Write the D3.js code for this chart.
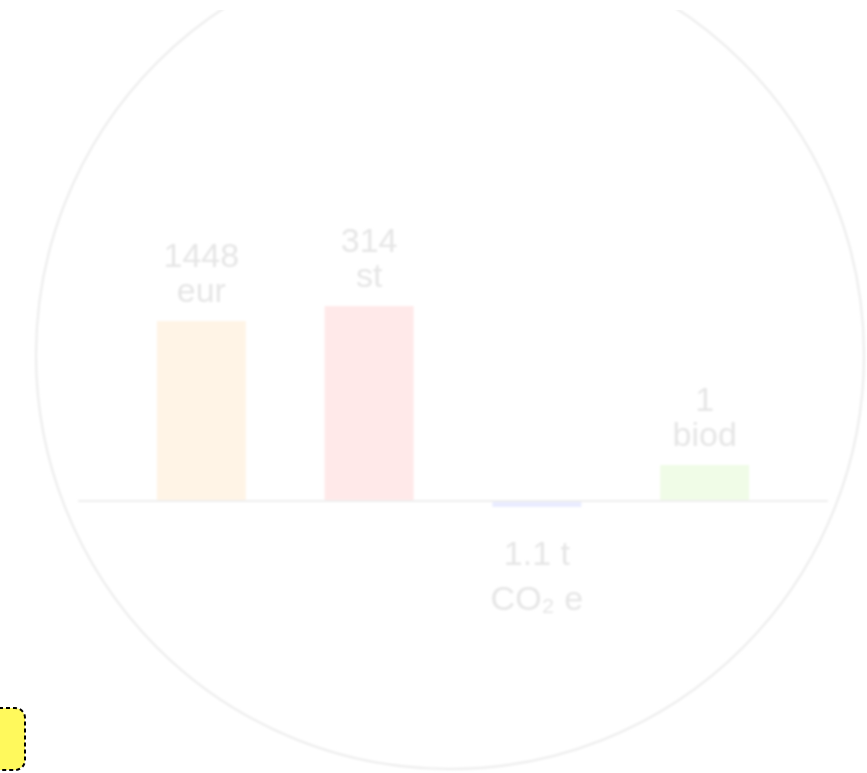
<!DOCTYPE html>
<html>
<head>
<meta charset="utf-8">
<script src="https://cdn.jsdelivr.net/npm/d3@7"></script>
<style>
  html, body { margin: 0; padding: 0; background: #fff; overflow: hidden; }
  svg { display: block; }
</style>
</head>
<body>
<div id="showdata"></div>
<script>
// indicators shown as bars
var categories = ["cost", "items", "co2", "biod"];
var values     = [1448, 314, -1.1, 1];
var topLines   = ["1448", "314", "1.1 t", "1"];
var unitLines  = ["eur", "st", "CO\u2082 e", "biod"];
// bar height relative to each indicator's own max
var relHeight  = [0.90, 0.975, -0.03, 0.18];
var barColors  = ["#fff4e6", "#ffe9e9", "#e9ecff", "#f0fce7"];

var svg_width = 867;
var svg_height = 773;

var mysvg = d3.select("#showdata")
  .append("svg")
  .attr("width", svg_width)
  .attr("height", svg_height);

var defs = mysvg.append("defs");
defs.append("clipPath").attr("id", "clipTop")
  .append("rect")
  .attr("x", 0).attr("y", 10)
  .attr("width", svg_width).attr("height", svg_height - 10);
defs.append("filter").attr("id", "soft")
  .attr("x", "-5%").attr("y", "-5%").attr("width", "110%").attr("height", "110%")
  .append("feGaussianBlur").attr("stdDeviation", 1.1);

var data = categories.map(function(c, i) {
  return { cat: c, value: values[i], rel: relHeight[i], top: topLines[i], unit: unitLines[i], col: barColors[i] };
});

var x = d3.scaleBand()
  .domain(categories)
  .range([78, 828])
  .padding(0.47);

var y = d3.scaleLinear()
  .domain([0, 1])
  .range([501, 301]);

var chart = mysvg.append("g")
  .attr("clip-path", "url(#clipTop)")
  .append("g")
  .attr("filter", "url(#soft)");

// big circle
chart.append("circle")
  .attr("cx", 450)
  .attr("cy", 355)
  .attr("r", 414)
  .attr("fill", "none")
  .attr("stroke", "#ededed")
  .attr("stroke-width", 2.2);

chart.selectAll("rect.bar")
  .data(data)
  .enter()
  .append("rect")
  .attr("class", "bar")
  .attr("x", function(d) { return x(d.cat); })
  .attr("width", x.bandwidth())
  .attr("y", function(d) { return Math.min(y(d.rel), y(0)); })
  .attr("height", function(d) { return Math.abs(y(d.rel) - y(0)); })
  .attr("fill", function(d) { return d.col; });

// zero line
chart.append("line")
  .attr("x1", x.range()[0])
  .attr("x2", x.range()[1])
  .attr("y1", y(0))
  .attr("y2", y(0))
  .attr("stroke", "#eeeeee")
  .attr("stroke-width", 2);

chart.selectAll("text.lab")
  .data(data)
  .enter()
  .append("text")
  .attr("class", "lab")
  .attr("text-anchor", "middle")
  .attr("font-family", "'Liberation Sans', Arial, sans-serif")
  .attr("font-size", 34)
  .attr("fill", "#e6e6e6")
  .attr("x", function(d) { return x(d.cat) + x.bandwidth() / 2; })
  .attr("y", function(d) { return d.rel >= 0 ? y(d.rel) - 54 : y(d.rel) + 58; })
  .text(function(d) { return d.top; });

chart.selectAll("text.unit")
  .data(data)
  .enter()
  .append("text")
  .attr("class", "unit")
  .attr("text-anchor", "middle")
  .attr("font-family", "'Liberation Sans', Arial, sans-serif")
  .attr("font-size", 34)
  .attr("fill", "#e6e6e6")
  .attr("x", function(d) { return x(d.cat) + x.bandwidth() / 2; })
  .attr("y", function(d) { return d.rel >= 0 ? y(d.rel) - 19 : y(d.rel) + 103; })
  .text(function(d) { return d.unit; });

// yellow note box, mostly off to the left
mysvg.append("rect")
  .attr("x", -200)
  .attr("y", 708)
  .attr("width", 225)
  .attr("height", 62)
  .attr("rx", 10)
  .attr("fill", "#fff95c")
  .attr("stroke", "#000")
  .attr("stroke-width", 2)
  .attr("stroke-dasharray", "4,3");
</script>
</body>
</html>
